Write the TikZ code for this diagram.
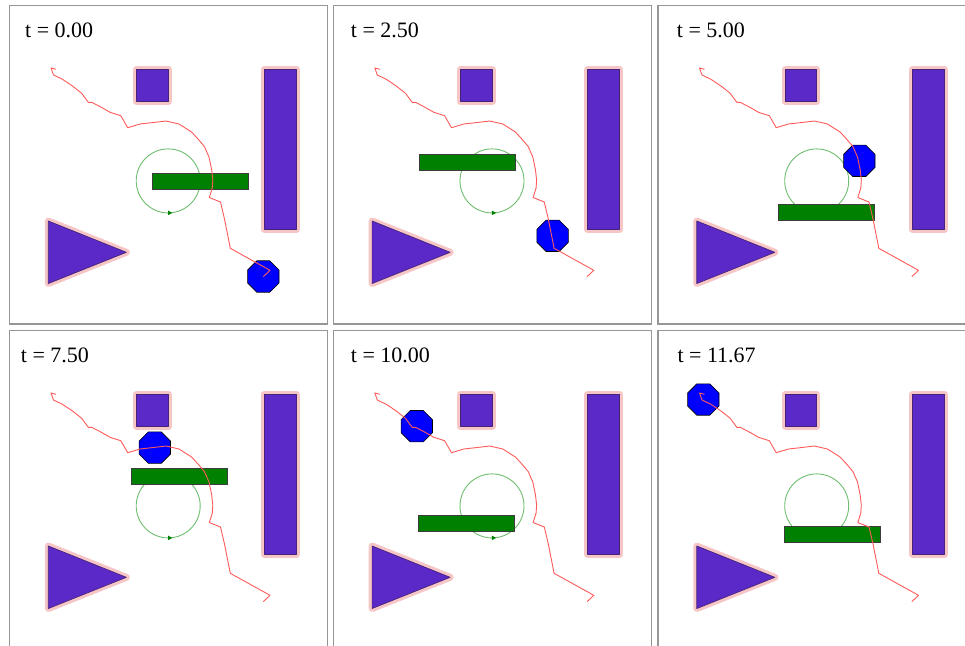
\documentclass[tikz,border=0pt]{standalone}
\usepackage{fontspec}
\setmainfont{Liberation Serif}
\usetikzlibrary{shapes.geometric}
\definecolor{obpurple}{RGB}{91,41,200}
\definecolor{obborder}{RGB}{70,35,120}
\definecolor{halopink}{RGB}{246,198,198}
\definecolor{trailred}{RGB}{255,90,90}
\definecolor{orbitgreen}{RGB}{110,190,110}
\definecolor{rectgreen}{RGB}{0,128,0}
\definecolor{rectedge}{RGB}{60,60,60}
\definecolor{framegray}{RGB}{150,150,150}
\tikzset{
  panelframe/.style={draw=framegray, line width=1.1pt},
  tlabel/.style={anchor=base west, inner sep=0pt, font=\fontsize{22}{26}\selectfont},
  obst/.style={fill=obpurple, draw=obborder, line width=0.7pt, line join=round,
    preaction={draw=halopink, line width=7pt, line join=round}},
  orbit/.style={draw=orbitgreen, line width=0.9pt},
  orbitarrow/.style={fill=rectgreen},
  movrect/.style={draw=rectedge, fill=rectgreen, line width=0.8pt, inner sep=0pt, outer sep=0pt,
    minimum width=96pt, minimum height=16pt},
  robot/.style={regular polygon, regular polygon sides=8, draw=black, fill=blue,
    line width=0.6pt, inner sep=0pt, outer sep=0pt, minimum size=34pt},
  trail/.style={draw=trailred, line width=0.9pt, line join=round}
}
\newcommand\simpanel[9]{%
  \begin{scope}[shift={(#2,#3)}]
    \draw[panelframe] (0,0) rectangle (318.3,318.3);
    \node[tlabel] (lab#1) at (#5,31.5) {#4};
    \path[obst] (127.2,63.6) rectangle (158.8,95.8);
    \path[obst] (254.5,63.6) rectangle (286.5,223.6);
    \path[obst] (38.8,215.3) -- (38.8,277.8) -- (116.8,246.6) -- cycle;
    \draw[orbit] (158.7,175.2) circle[radius=32];
    \fill[orbitarrow] (158.6,204.9) -- (162.8,207.2) -- (158.6,209.5) -- cycle;
    \node[movrect] (rect#1) at (#6,#7) {};
    \node[robot] (bot#1) at (#8,#9) {};
    \draw[trail] (46.5,63.6) -- (41.5,62.3) -- (44,69.3) -- (53,73.6) -- (63,80.3)
      -- (72.2,87.6) -- (78.8,96.6) -- (82.2,96.6) -- (92.2,101.8) -- (100.5,106.6)
      -- (111.3,110) -- (118.2,122) -- (130.5,118.3) -- (143.8,116.8) -- (156.5,115.3)
      -- (169.5,118.3) -- (182.2,126.4) -- (188.8,133.6) -- (195,141) -- (199.5,151.3)
      -- (202.2,164.3) -- (203.3,174.3) -- (202.8,182.3) -- (199.8,191.8) -- (211,196.3)
      -- (215,213.3) -- (220.8,242.6) -- (260.5,264.6) -- (253.8,271);
  \end{scope}%
}
\begin{document}
\begin{tikzpicture}[x=1pt,y=-1pt]
  \useasboundingbox (0,0) rectangle (965,645);
  \clip (0,0) rectangle (965,645);
  \simpanel{a}{9.5}{5.7}{t = 0.00}{15.5}{190.5}{175.5}{253.8}{270.8}
  \simpanel{b}{333.3}{5.7}{t = 2.50}{17.4}{133.7}{156.3}{219.3}{230.1}
  \simpanel{c}{658}{5.7}{t = 5.00}{18.7}{168.3}{206.3}{201.3}{155.1}
  \simpanel{d}{9.5}{330.7}{t = 7.50}{11.2}{170.3}{146}{145.3}{116.9}
  \simpanel{e}{333.3}{330.7}{t = 10.00}{17.4}{132.9}{192.5}{83.5}{95.5}
  \simpanel{f}{658}{330.7}{t = 11.67}{19.3}{174.3}{203.6}{45.3}{68.8}
\end{tikzpicture}
\end{document}
